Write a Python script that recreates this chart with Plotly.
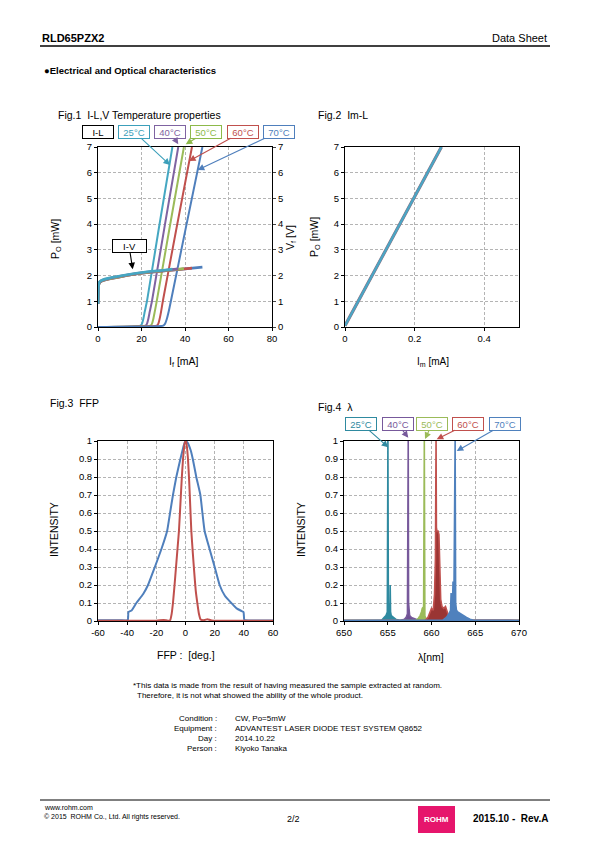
import plotly.graph_objects as go

W, H = 595, 842


def X(px):
    return px / W


def Y(py):
    return 1 - py / H


FONT = "Liberation Sans, Arial, sans-serif"

# ---------------- DATA ----------------
temps = ["25°C", "40°C", "50°C", "60°C", "70°C"]

# Fig.1 I-L curves (If [mA], Po [mW])
il_i_25 = [0, 15, 19.5, 20.2, 20.8, 21.5, 22.5, 28, 34.2]
il_p_25 = [0, 0.02, 0.05, 0.12, 0.3, 0.6, 1.0, 3.85, 7.0]
il_i_40 = [0, 17, 21.8, 22.5, 23.1, 23.8, 24.8, 31, 36.9]
il_p_40 = [0, 0.02, 0.05, 0.12, 0.3, 0.6, 1.0, 4.1, 7.0]
il_i_50 = [0, 19, 24.1, 24.8, 25.4, 26.1, 27, 33, 39.5]
il_p_50 = [0, 0.02, 0.05, 0.12, 0.3, 0.6, 1.0, 3.9, 7.0]
il_i_60 = [0, 21, 27, 27.7, 28.3, 29, 29.8, 36, 43.2]
il_p_60 = [0, 0.02, 0.05, 0.12, 0.3, 0.6, 1.0, 3.8, 7.0]
il_i_70 = [0, 24, 30, 30.8, 31.6, 32.5, 33.5, 40, 48]
il_p_70 = [0, 0.02, 0.05, 0.12, 0.3, 0.6, 1.0, 3.7, 7.0]

# Fig.1 I-V curves (If [mA], Vf [V])
iv_i_25 = [0, 0.2, 0.5, 1, 2, 5, 10, 20, 30, 34.2]
iv_v_25 = [0.9, 1.55, 1.72, 1.78, 1.83, 1.9, 1.98, 2.12, 2.21, 2.25]
iv_i_40 = [0, 0.2, 0.5, 1, 2, 5, 10, 20, 30, 36.9]
iv_v_40 = [0.9, 1.54, 1.71, 1.77, 1.82, 1.89, 1.97, 2.11, 2.2, 2.26]
iv_i_50 = [0, 0.2, 0.5, 1, 2, 5, 10, 20, 30, 39.5]
iv_v_50 = [0.9, 1.53, 1.7, 1.76, 1.81, 1.88, 1.96, 2.1, 2.19, 2.27]
iv_i_60 = [0, 0.2, 0.5, 1, 2, 5, 10, 20, 30, 43.2]
iv_v_60 = [0.9, 1.52, 1.69, 1.75, 1.8, 1.87, 1.95, 2.09, 2.18, 2.29]
iv_i_70 = [0, 0.2, 0.5, 1, 2, 5, 10, 20, 30, 40, 48]
iv_v_70 = [0.9, 1.52, 1.69, 1.75, 1.8, 1.87, 1.95, 2.09, 2.18, 2.26, 2.33]

# Fig.2 Im-L
im_ma = [0, 0.1, 0.2, 0.277]
im_po = [0.05, 2.55, 5.05, 7.0]

# Fig.3 FFP
ffp_h_deg = [-60, -45, -39.6, -39.1, -37, -33.7, -29, -25.7, -21, -16.5, -12.6, -10.6, -8.6,
             -6.3, -3.5, -1, 0, 1.5, 3.5, 5, 7.4, 10.2, 11.6, 13.1, 16.5, 20, 23.4, 27,
             31.4, 35, 38.5, 39.8, 40.4, 45, 60]
ffp_h_int = [0.004, 0.004, 0.005, 0.05, 0.058, 0.1, 0.15, 0.2, 0.3, 0.4, 0.5, 0.6, 0.7,
             0.8, 0.9, 0.98, 1.0, 0.99, 0.95, 0.9, 0.8, 0.7, 0.6, 0.5, 0.4, 0.3, 0.2, 0.14,
             0.1, 0.07, 0.055, 0.05, 0.005, 0.003, 0.003]
ffp_v_deg = [-60, -20, -15, -12, -10.5, -9.5, -8.6, -7.5, -6.5, -5.5, -4.5, -3.5, -2.5, -1.7,
             -0.5, 0.5, 1.7, 2.5, 3.3, 4, 5, 6, 7, 8.1, 9.2, 10.4, 13, 15, 18, 60]
ffp_v_int = [0.002, 0.002, 0.006, 0.002, 0.005, 0.04, 0.1, 0.2, 0.3, 0.4, 0.5, 0.65, 0.8, 0.9,
             0.99, 1.0, 0.9, 0.78, 0.63, 0.5, 0.38, 0.27, 0.17, 0.1, 0.04, 0.008, 0.005, 0.01,
             0.003, 0.002]

# Fig.4 spectra (wavelength [nm], intensity)
sp_wl_25 = [650, 654.3, 654.6, 654.8, 654.95, 655.02, 655.07, 655.12, 655.25, 655.28, 655.32,
            655.4, 655.6, 655.9, 656.3, 670]
sp_in_25 = [0.003, 0.004, 0.02, 0.03, 0.05, 1.0, 0.06, 0.1, 0.06, 0.2, 0.05, 0.03, 0.02, 0.01,
            0.004, 0.003]
sp_wl_40 = [650, 656.5, 656.9, 657.1, 657.25, 657.34, 657.38, 657.42, 657.5, 657.7, 657.9,
            658.3, 658.7, 670]
sp_in_40 = [0.003, 0.004, 0.01, 0.02, 0.04, 1.0, 0.1, 0.08, 0.03, 0.02, 0.015, 0.008, 0.004,
            0.003]
sp_wl_50 = [650, 658.2, 658.5, 658.7, 658.85, 658.95, 659.1, 659.18, 659.24, 659.3, 659.45,
            659.7, 670]
sp_in_50 = [0.003, 0.004, 0.015, 0.03, 0.05, 0.07, 0.08, 1.0, 0.03, 0.02, 0.01, 0.004, 0.003]
sp_wl_60 = [650, 659.3, 659.6, 659.8, 660.0, 660.2, 660.35, 660.45, 660.52, 660.56, 660.62,
            660.75, 660.85, 660.95, 661.05, 661.2, 661.4, 661.6, 661.8, 662.0, 662.3, 670]
sp_in_60 = [0.003, 0.004, 0.02, 0.05, 0.07, 0.06, 0.15, 0.35, 1.0, 0.52, 0.5, 0.5, 0.48, 0.3,
            0.12, 0.08, 0.07, 0.08, 0.05, 0.02, 0.005, 0.003]
sp_wl_70 = [650, 661.3, 661.7, 662.0, 662.18, 662.24, 662.3, 662.4, 662.46, 662.5, 662.56,
            662.7, 662.76, 662.85, 663.0, 663.3, 663.6, 664.0, 664.4, 664.8, 670]
sp_in_70 = [0.003, 0.005, 0.02, 0.04, 0.06, 0.155, 0.07, 0.09, 0.22, 0.2, 0.12, 1.0, 0.1,
            0.06, 0.05, 0.04, 0.03, 0.02, 0.01, 0.004, 0.003]

fig1_x_ticks = [0, 20, 40, 60, 80]
fig2_x_ticks = [0, 0.2, 0.4]
fig3_x_ticks = [-60, -40, -20, 0, 20, 40, 60]
fig3_x_labels = ["-60", "-40", "-20", "0", "20", "40", "60"]
fig4_x_ticks = [650, 655, 660, 665, 670]

# ---------------- STYLE ----------------
c1 = ["#45A7C2", "#7F63A1", "#9BBB59", "#C0504D", "#4F7FBC"]
c4 = ["#2F8AA0", "#77599B", "#9BBB59", "#C0504D", "#4F81BD"]
c4_fill = ["#2F8AA0", "#6E5092", "#9BBB59", "#9A3533", "#4F81BD"]
lbl1 = ["#3C9FBA", "#7F63A1", "#8DB94A", "#C0504D", "#4F7FBC"]

fig = go.Figure()

il_sets = [(il_i_25, il_p_25), (il_i_40, il_p_40), (il_i_50, il_p_50), (il_i_60, il_p_60),
           (il_i_70, il_p_70)]
iv_sets = [(iv_i_25, iv_v_25), (iv_i_40, iv_v_40), (iv_i_50, iv_v_50), (iv_i_60, iv_v_60),
           (iv_i_70, iv_v_70)]

# Fig1: I-V first (secondary axis), then I-L
for k in reversed(range(5)):
    fig.add_trace(go.Scatter(x=iv_sets[k][0], y=iv_sets[k][1], mode="lines",
                             line=dict(color=c1[k], width=2.6, shape="spline", smoothing=0.6),
                             xaxis="x", yaxis="y2", showlegend=False, hoverinfo="skip"))
for k in range(5):
    fig.add_trace(go.Scatter(x=il_sets[k][0], y=il_sets[k][1], mode="lines",
                             line=dict(color=c1[k], width=2, shape="spline", smoothing=0.5),
                             xaxis="x", yaxis="y", showlegend=False, hoverinfo="skip"))

# Fig2
fig.add_trace(go.Scatter(x=im_ma, y=im_po, mode="lines", line=dict(color="#8C6A7A", width=3.2),
                         xaxis="x2", yaxis="y3", showlegend=False, hoverinfo="skip"))
fig.add_trace(go.Scatter(x=im_ma, y=im_po, mode="lines", line=dict(color="#4BA5C4", width=2.4),
                         xaxis="x2", yaxis="y3", showlegend=False, hoverinfo="skip"))

# Fig3
fig.add_trace(go.Scatter(x=ffp_h_deg, y=ffp_h_int, mode="lines",
                         line=dict(color="#4F7FBC", width=2, shape="spline", smoothing=0.4),
                         xaxis="x3", yaxis="y4", showlegend=False, hoverinfo="skip"))
fig.add_trace(go.Scatter(x=ffp_v_deg, y=ffp_v_int, mode="lines",
                         line=dict(color="#C0504D", width=2, shape="spline", smoothing=0.4),
                         xaxis="x3", yaxis="y4", showlegend=False, hoverinfo="skip"))

# Fig4
sp_sets = [(sp_wl_25, sp_in_25), (sp_wl_40, sp_in_40), (sp_wl_50, sp_in_50),
           (sp_wl_60, sp_in_60), (sp_wl_70, sp_in_70)]
for k in range(5):
    fig.add_trace(go.Scatter(x=sp_sets[k][0], y=sp_sets[k][1], mode="lines",
                             line=dict(color=c4[k], width=1.6), fill="tozeroy",
                             fillcolor=c4_fill[k],
                             xaxis="x4", yaxis="y5", showlegend=False, hoverinfo="skip"))

# ---------------- AXES ----------------
tickfont = dict(family=FONT, size=9.5, color="#000")
grid = dict(showgrid=True, gridcolor="#B4B4B4", griddash="3px,2px", gridwidth=1)
common = dict(showline=True, linecolor="#000", linewidth=1, mirror=True, ticks="outside",
              ticklen=3, tickcolor="#000", tickfont=tickfont, zeroline=False, automargin=False,
              **grid)


def dom_x(a, b):
    return [X(a), X(b)]


def dom_y(top, bottom):
    return [Y(bottom), Y(top)]


fig.update_layout(
    xaxis=dict(domain=dom_x(98, 272), range=[0, 80], tickvals=fig1_x_ticks, anchor="y", **common),
    yaxis=dict(domain=dom_y(147, 327), range=[0, 7], dtick=1, anchor="x", **common),
    yaxis2=dict(range=[0, 7], dtick=1, overlaying="y", side="right", anchor="x", showgrid=False,
                showline=False, ticks="outside", ticklen=3, tickfont=tickfont, zeroline=False,
                automargin=False),
    xaxis2=dict(domain=dom_x(345, 519), range=[0, 0.5], tickvals=fig2_x_ticks,
                ticktext=["0", "0.2", "0.4"], anchor="y3", **common),
    yaxis3=dict(domain=dom_y(147, 327), range=[0, 7], dtick=1, anchor="x2", **common),
    xaxis3=dict(domain=dom_x(98, 273), range=[-60, 60], tickvals=fig3_x_ticks,
                ticktext=fig3_x_labels, anchor="y4", **common),
    yaxis4=dict(domain=dom_y(441, 621), range=[0, 1], dtick=0.1, anchor="x3", **common),
    xaxis4=dict(domain=dom_x(344, 519), range=[650, 670], tickvals=fig4_x_ticks, anchor="y5",
                **common),
    yaxis5=dict(domain=dom_y(441, 621), range=[0, 1], dtick=0.1, anchor="x4", **common),
)

# ---------------- TEXT / ANNOTATIONS ----------------
ann = []


def text(px, py, s, size=10, bold=False, xanchor="left", angle=0, color="#000"):
    if bold:
        s = "<b>" + s + "</b>"
    ann.append(dict(x=X(px), y=Y(py), xref="paper", yref="paper", text=s, showarrow=False,
                    xanchor=xanchor, yanchor="middle", textangle=angle,
                    font=dict(family=FONT, size=size, color=color)))


def box(cx, cy, s, color, w=28, head=None):
    d = dict(xref="paper", yref="paper", text=s, font=dict(family=FONT, size=9.5, color=color),
             bordercolor=color, borderwidth=1, borderpad=1, bgcolor="#fff", width=w, height=10)
    if head is None:
        d.update(x=X(cx), y=Y(cy), showarrow=False, xanchor="center", yanchor="middle")
    else:
        hx, hy = head
        d.update(x=X(hx), y=Y(hy), showarrow=True, ax=cx - hx, ay=cy - hy, axref="pixel",
                 ayref="pixel", arrowhead=2, arrowsize=1.2, arrowwidth=1.1, arrowcolor=color,
                 standoff=0)
    ann.append(d)


# header
text(40, 38, "RLD65PZX2", size=11, bold=True)
text(549, 38, "Data Sheet", size=11, xanchor="right")
text(42, 71, "●Electrical and Optical characteristics", size=9.5, bold=True)

# figure titles
text(56, 115, "Fig.1  I-L,V Temperature properties", size=10.5)
text(316, 115, "Fig.2  Im-L", size=10.5)
text(48, 403, "Fig.3  FFP", size=10.5)
text(316, 407, "Fig.4  λ", size=10.5)

# axis titles
text(56, 239, "P<sub>O</sub> [mW]", size=10.5, xanchor="center", angle=-90)
text(291, 238, "V<sub>f</sub> [V]", size=10.5, xanchor="center", angle=-90)
text(184, 362, "I<sub>f</sub> [mA]", size=10.5, xanchor="center")
text(315, 237, "P<sub>O</sub> [mW]", size=10.5, xanchor="center", angle=-90)
text(433, 362, "I<sub>m</sub> [mA]", size=10, xanchor="center")
text(54, 530, "INTENSITY", size=10.5, xanchor="center", angle=-90)
text(186, 655, "FFP :  [deg.]", size=10.5, xanchor="center")
text(301, 530, "INTENSITY", size=10.5, xanchor="center", angle=-90)
text(431, 657, "λ[nm]", size=10.5, xanchor="center")

# Fig1 label boxes
box(98.4, 131.7, "I-L", "#000")
heads1 = [(170, 165), (178.3, 144.3), (185.7, 144.3), (189, 161), (197.7, 170)]
centers1 = [134, 170.2, 206.4, 242.5, 278.5]
for k in range(5):
    box(centers1[k], 131.7, temps[k], lbl1[k], head=heads1[k])
box(129, 245.8, "I-V", "#000", w=31, head=(132.7, 269.3))

# Fig4 label boxes
heads4 = [(388.3, 447.3), (408.3, 437.7), (425, 439), (436.7, 439.3), (456.7, 451)]
centers4 = [361.5, 397.5, 432.2, 467.7, 504.7]
for k in range(5):
    box(centers4[k], 423.7, temps[k], c4[k], head=heads4[k])

# notes
text(131, 685, "*This data is made from the result of having measured the sample extracted at random.", size=8)
text(135, 695, "Therefore, it is not what showed the ability of the whole product.", size=8)
labels = ["Condition :", "Equipment :", "Day :", "Person :"]
values = ["CW, Po=5mW", "ADVANTEST LASER DIODE TEST SYSTEM Q8652", "2014.10.22", "Kiyoko Tanaka"]
for i, (l, v) in enumerate(zip(labels, values)):
    yy = 718 + i * 10.3
    text(219, yy, l, size=8, xanchor="right")
    text(233, yy, v, size=8)

# footer
text(42, 807, "www.rohm.com", size=7)
text(42, 817, "© 2015  ROHM Co., Ltd. All rights reserved.", size=7)
text(293, 819, "2/2", size=9, xanchor="center")
text(550, 818, "2015.10 -  Rev.A", size=10, bold=True, xanchor="right")
ann.append(dict(x=X(436.5), y=Y(819.5), xref="paper", yref="paper", text="<b>ROHM</b>",
                showarrow=False, font=dict(family=FONT, size=8, color="#fff"), xanchor="center",
                yanchor="middle"))

shapes = [
    dict(type="line", xref="paper", yref="paper", x0=X(40), x1=X(550), y0=Y(46), y1=Y(46),
         line=dict(color="#000", width=1.3)),
    dict(type="line", xref="paper", yref="paper", x0=X(40), x1=X(550), y0=Y(800), y1=Y(800),
         line=dict(color="#000", width=1)),
    dict(type="rect", xref="paper", yref="paper", x0=X(418), x1=X(455), y0=Y(833), y1=Y(806),
         fillcolor="#E6156C", line=dict(width=0), layer="below"),
]

fig.update_layout(
    width=W, height=H, autosize=False,
    margin=dict(l=0, r=0, t=0, b=0, pad=0, autoexpand=False),
    paper_bgcolor="#fff", plot_bgcolor="#fff",
    annotations=ann, shapes=shapes,
    font=dict(family=FONT, color="#000"),
)

fig.write_html("out.html", config={"displayModeBar": False},
               post_script="document.body.style.margin='0';")
